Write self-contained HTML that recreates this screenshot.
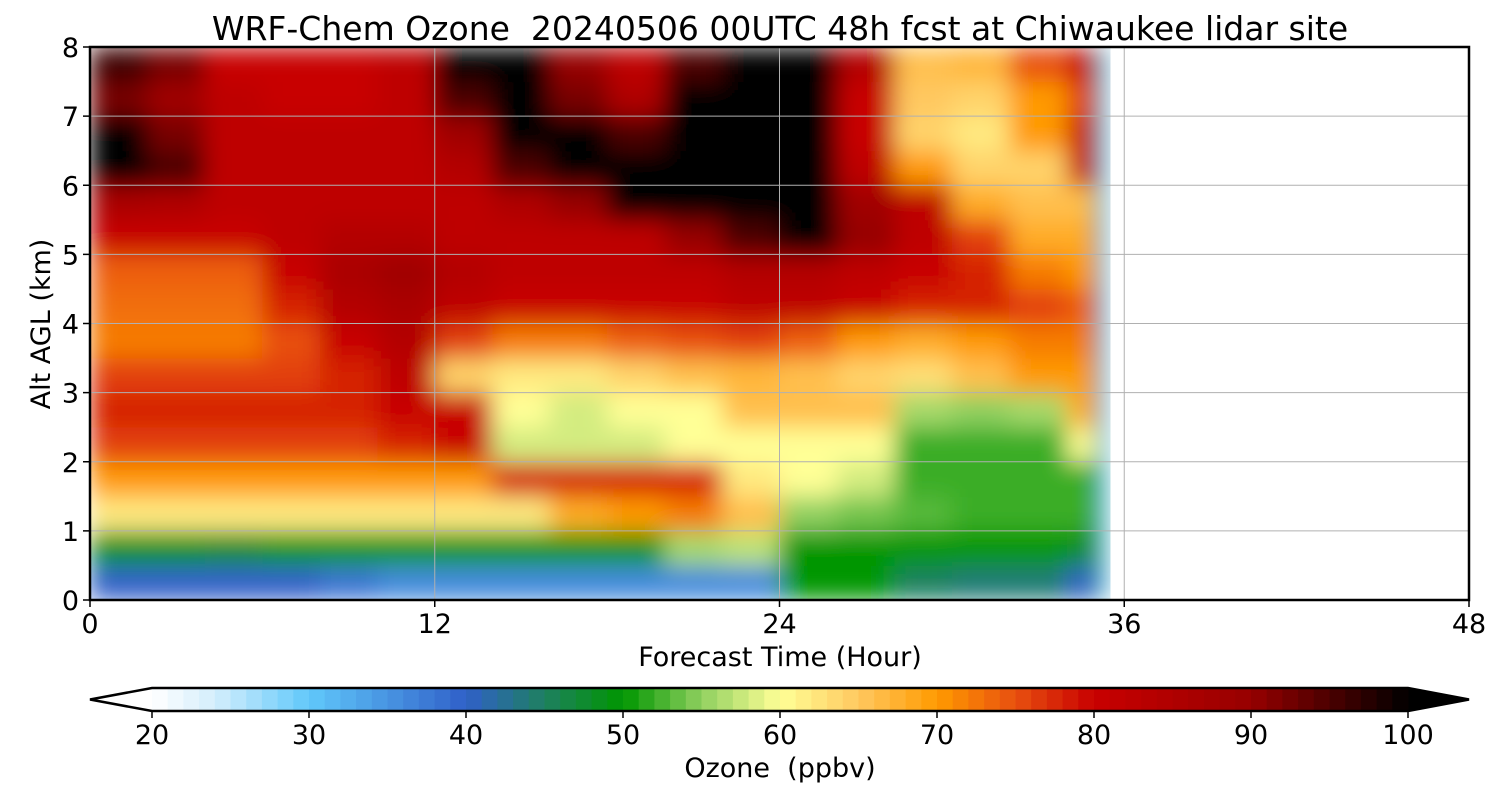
<!DOCTYPE html>
<html><head><meta charset="utf-8"><style>
body{margin:0;background:#fff;width:1500px;height:800px;overflow:hidden;font-family:"DejaVu Sans","Liberation Sans",sans-serif}
svg text{font-family:"DejaVu Sans","Liberation Sans",sans-serif;fill:#000}
</style></head><body>
<svg id="chart" width="1500" height="800">
<defs>
<clipPath id="plotclip"><rect x="90" y="47" width="1379" height="553"/></clipPath>
<filter id="smooth" x="0" y="0" width="1" height="1"><feGaussianBlur stdDeviation="12" edgeMode="duplicate"/></filter>
</defs>
<text x="780" y="40" font-size="33" text-anchor="middle" xml:space="preserve">WRF-Chem Ozone  20240506 00UTC 48h fcst at Chiwaukee lidar site</text>
<g clip-path="url(#plotclip)"><g id="cells" filter="url(#smooth)"></g></g>
<g id="grid"></g>
<rect x="90" y="47" width="1379" height="553" fill="none" stroke="#000" stroke-width="2.5"/>
<g id="axes"></g>
<text x="780" y="666" font-size="27" text-anchor="middle">Forecast Time (Hour)</text>
<text transform="translate(50,324) rotate(-90)" font-size="27" text-anchor="middle">Alt AGL (km)</text>
<g id="cbar"></g>
<text x="780" y="777" font-size="27" text-anchor="middle" xml:space="preserve">Ozone  (ppbv)</text>
</svg>
<script>
const timeEdges=[0,2,4,6,8,10,12,14,16,18,20,22,24,26,28,30,32,34,35,35.2,35.5];
const altEdges=[0,0.5,1,1.5,2,2.5,3,3.5,4,4.5,5,5.5,6,6.5,7,7.5,8];
const ozoneRows=[
[40,40,40,40,38,36,36,36,36,36,36,36,50,50,45,44,44,40,46,28],
[49,49,48,50,50,50,50,50,50,50,56,57,50,50,50,50,50,48,46,28],
[62,62,62,62,62,62,62,62,68,70,72,66,55,54,53,52,52,52,46,28],
[70,70,70,70,70,70,70,78,78,78,78,62,60,58,52,52,52,52,46,28],
[76,76,76,76,76,78,80,58,58,58,60,60,60,60,52,52,52,60,46,28],
[78,78,78,78,78,80,80,60,58,60,60,66,66,66,56,55,56,68,46,28],
[76,76,76,76,78,82,64,62,62,64,66,67,66,64,63,66,70,70,46,28],
[72,72,72,75,80,84,76,72,72,74,75,76,74,70,68,70,72,72,46,28],
[73,73,73,78,84,86,82,80,80,80,80,82,82,80,78,78,76,74,46,28],
[74,74,74,80,86,88,84,82,82,82,82,84,84,82,80,78,72,70,46,28],
[80,80,80,82,84,84,82,82,82,82,90,95,100,90,82,76,68,68,46,28],
[86,85,82,82,82,82,82,85,90,100,100,100,100,88,82,68,66,66,46,28],
[100,95,82,82,82,82,84,95,100,100,100,100,100,82,70,64,64,80,46,28],
[100,92,82,82,82,82,88,100,100,95,100,100,100,80,64,62,70,80,46,28],
[92,88,82,80,80,82,95,100,92,85,100,100,100,80,65,64,70,76,46,28],
[96,92,80,80,80,82,100,100,90,82,95,100,100,84,66,67,75,80,46,28]];
const xTicks=[0,12,24,36,48];
const yTicks=[0,1,2,3,4,5,6,7,8];
const cbTicks=[20,30,40,50,60,70,80,90,100];
const cmapVals=[20,24,30,40,45,50,55,60,65,70,75,80,90,100];
const cmapCols=["#ffffff","#d4eefc","#60c8fa","#3060c8","#1e8060","#009600","#90d060","#ffff96","#ffc860","#ff9a00","#e85010","#c80000","#960000","#000000"];

const NS="http://www.w3.org/2000/svg";
const X=t=>90+t/48*1379, Y=a=>600-a/8*553, CB=v=>152+(v-20)/80*1256;
function hex(h){return [1,3,5].map(i=>parseInt(h.substr(i,2),16));}
function cmap(v){v=Math.max(20,Math.min(100,v));
 for(let i=0;i<cmapVals.length-1;i++){if(v<=cmapVals[i+1]){const f=(v-cmapVals[i])/(cmapVals[i+1]-cmapVals[i]);const a=hex(cmapCols[i]),b=hex(cmapCols[i+1]);return "rgb("+a.map((c,k)=>Math.round(c+(b[k]-c)*f)).join(",")+")";}}
 return "#000";}
function mk(tag,at,parent){const e=document.createElementNS(NS,tag);for(const k in at)e.setAttribute(k,at[k]);parent.appendChild(e);return e;}
const cells=document.getElementById('cells');
ozoneRows.forEach((row,r)=>row.forEach((v,c)=>{
 const x0=X(timeEdges[c]),x1=X(timeEdges[c+1]),y0=Y(altEdges[r+1]),y1=Y(altEdges[r]);
 const el=mk('rect',{x:x0,y:y0,width:x1-x0+0.5,height:y1-y0+0.5,fill:cmap(v)},cells);
 
 
}));
const grid=document.getElementById('grid'),axes=document.getElementById('axes');
xTicks.forEach(t=>{
 if(t>0&&t<48){const g=mk('line',{x1:X(t),x2:X(t),y1:47,y2:600,stroke:'#b0b0b0','stroke-width':1},grid);}
 mk('line',{x1:X(t),x2:X(t),y1:600,y2:607,stroke:'#000','stroke-width':1.5},axes);
 const l=mk('text',{x:X(t),y:633,'font-size':27,'text-anchor':'middle'},axes);l.textContent=t;
 
 
});
yTicks.forEach(a=>{
 if(a>0&&a<8){const g=mk('line',{x1:90,x2:1469,y1:Y(a),y2:Y(a),stroke:'#b0b0b0','stroke-width':1},grid);}
 mk('line',{x1:83,x2:90,y1:Y(a),y2:Y(a),stroke:'#000','stroke-width':1.5},axes);
 const l=mk('text',{x:79,y:Y(a)+10,'font-size':27,'text-anchor':'end'},axes);l.textContent=a;
 
 
});
const cb=document.getElementById('cbar');
mk('polygon',{points:"152,688 90,699.5 152,711",fill:'#fff'},cb);
mk('polygon',{points:"1408,688 1469,699.5 1408,711",fill:'#000'},cb);
for(let v=20;v<100;v++){const s=mk('rect',{x:CB(v),y:688,width:CB(v+1)-CB(v)+0.5,height:23,fill:cmap(v+0.5)},cb);
 
 }
mk('polygon',{points:"152,688 1408,688 1469,699.5 1408,711 152,711 90,699.5",fill:'none',stroke:'#000','stroke-width':2.5},cb);
cbTicks.forEach(v=>{mk('line',{x1:CB(v),x2:CB(v),y1:711,y2:718,stroke:'#000','stroke-width':1.5},cb);
 const l=mk('text',{x:CB(v),y:744,'font-size':27,'text-anchor':'middle'},cb);l.textContent=v;
 
 });
</script>
</body></html>
